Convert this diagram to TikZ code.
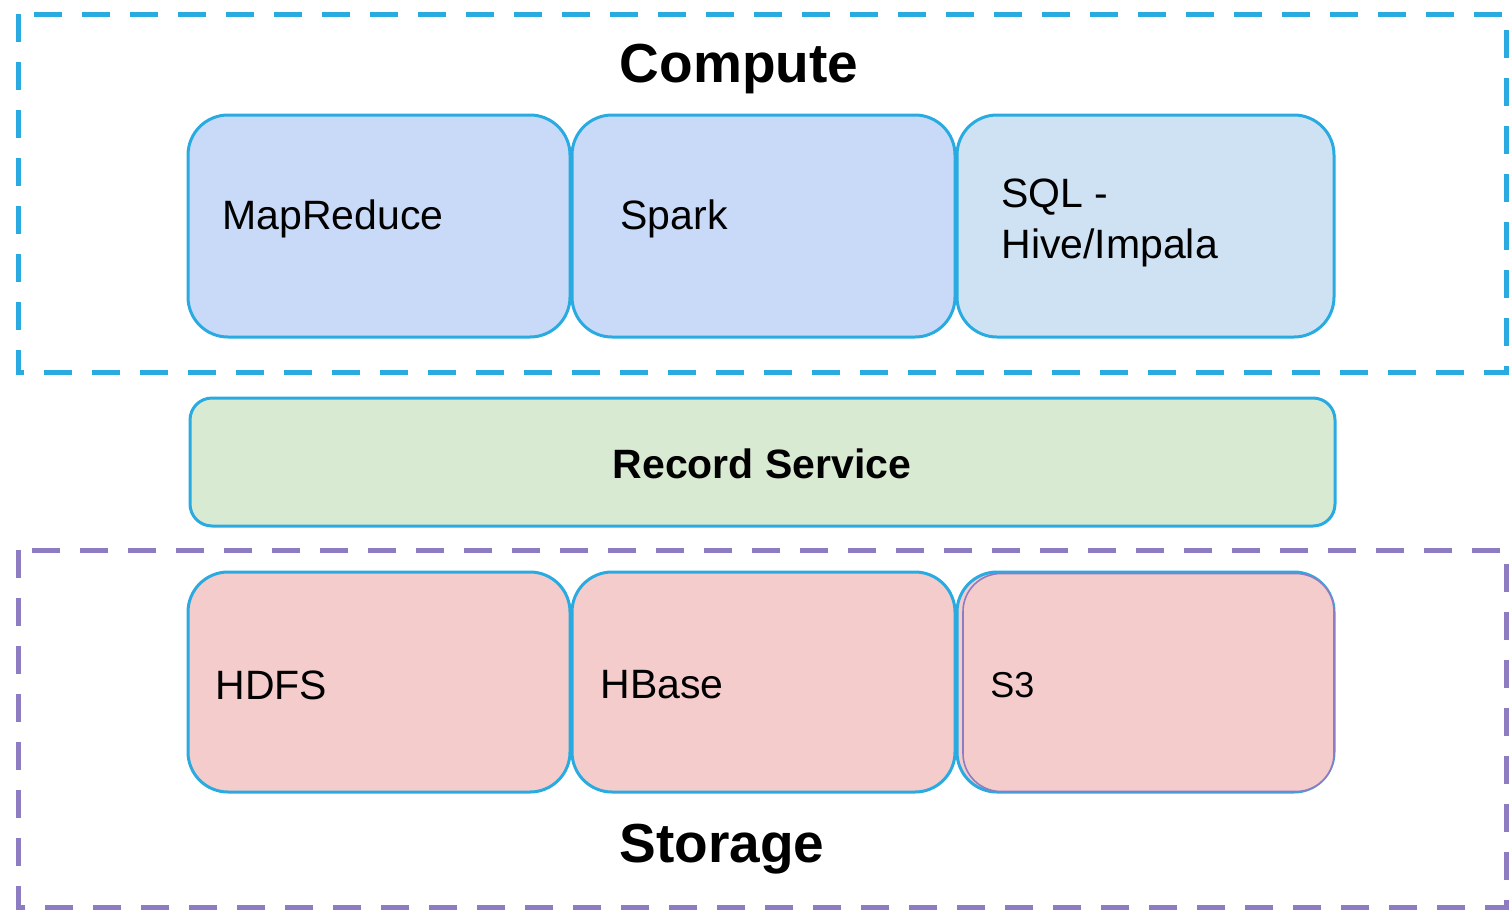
\documentclass[tikz,border=0pt]{standalone}
\usepackage{fontspec}
\setmainfont{Liberation Sans}
\definecolor{edgeblue}{HTML}{29ABE2}
\definecolor{edgepurple}{HTML}{8E7CC3}
\definecolor{fillblue}{HTML}{C9DAF8}
\definecolor{fillsky}{HTML}{CFE2F3}
\definecolor{fillgreen}{HTML}{D9EAD3}
\definecolor{fillred}{HTML}{F4CCCC}
\begin{document}
\begin{tikzpicture}[x=0.5pt,y=-0.5pt,
  box/.style={draw=edgeblue, line width=1.5pt, rounded corners=20pt, inner sep=0pt},
  frame/.style={line width=2.5pt, dash pattern=on 14pt off 10pt},
  lbl/.style={anchor=west, inner sep=0pt, font=\fontsize{20.5pt}{25.5pt}\selectfont, align=left},
  title/.style={inner sep=0pt, font=\fontsize{27.5pt}{33pt}\selectfont\bfseries}]
\useasboundingbox (0,0) rectangle (1509,910);
% frames
\draw[frame, draw=edgeblue] (18,14) rectangle (1506,372);
\draw[frame, draw=edgepurple] (18,550) rectangle (1506,907);
% compute boxes
\node[box, fill=fillblue, minimum width=191pt, minimum height=111pt] (mr) at (379,226) {};
\node[box, fill=fillblue, minimum width=191.5pt, minimum height=111pt] (spark) at (763.5,226) {};
\node[box, fill=fillsky, minimum width=188.5pt, minimum height=111pt] (sql) at (1145.5,226) {};
% record service
\node[box, fill=fillgreen, rounded corners=11pt, minimum width=572.5pt, minimum height=64pt] (rs) at (762.5,462) {};
% storage boxes
\node[box, fill=fillred, minimum width=191pt, minimum height=110pt] (hdfs) at (379,682) {};
\node[box, fill=fillred, minimum width=191.5pt, minimum height=110pt] (hbase) at (763.5,682) {};
\node[box, fill=fillred, minimum width=188.5pt, minimum height=110pt] (s3a) at (1145.5,682) {};
\node[draw=edgepurple, line width=0.8pt, fill=fillred, rounded corners=19pt, inner sep=0pt, minimum width=185.5pt, minimum height=109pt] (s3) at (1148.5,682.5) {};
% labels
\node[title] (compute) at (739,69) {Compute};
\node[title] (storage) at (722,849) {Storage};
\node[lbl] (tmr) at (222,219) {MapReduce};
\node[lbl] (tspark) at (620,219) {Spark};
\node[lbl] (tsql) at (1001,223) {SQL -\\Hive/Impala};
\node[inner sep=0pt, font=\fontsize{20.5pt}{25pt}\selectfont\bfseries] (trs) at (762,464) {Record Service};
\node[lbl] (thdfs) at (215,685) {HDFS};
\node[lbl] (thbase) at (600,685) {HBase};
\node[lbl, font=\fontsize{18pt}{22pt}\selectfont] (ts3) at (990,685) {S3};
\end{tikzpicture}
\end{document}
